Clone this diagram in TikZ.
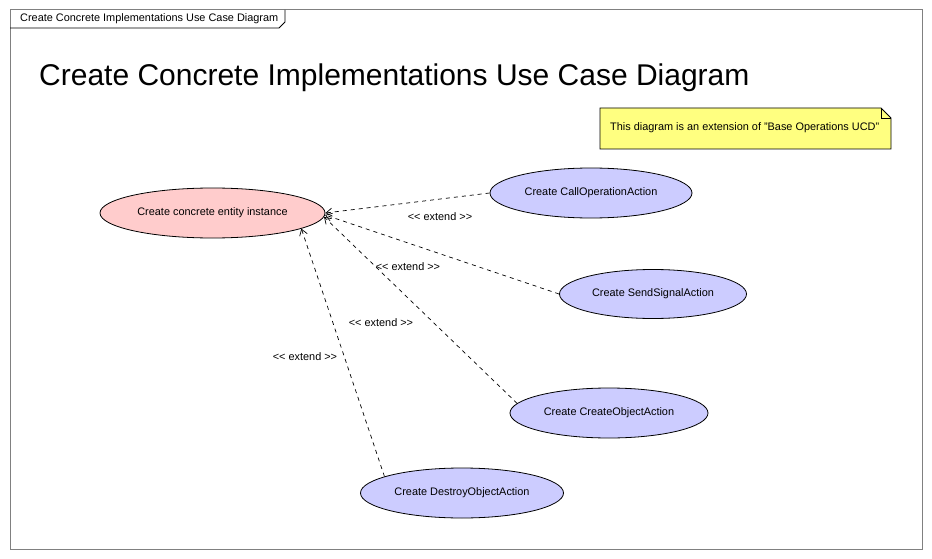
\documentclass[tikz,border=0pt]{standalone}
\usepackage{fontspec}
\setmainfont{Liberation Sans}
\usetikzlibrary{arrows.meta,shapes.geometric}
\definecolor{pinkfill}{HTML}{FFCCCC}
\definecolor{bluefill}{HTML}{CCCCFF}
\definecolor{notefill}{HTML}{FFFF80}
\definecolor{framegray}{HTML}{808080}
\newcommand{\extxt}{<\kern0pt< extend >\kern0pt>}
\tikzset{
  x=1pt, y=-1pt,
  smallfont/.style={font=\fontsize{10.9}{13}\selectfont},
  usecase/.style={draw=black, ellipse, inner sep=0pt, smallfont, line width=0.8pt, text height=6pt, text depth=2pt},
  base/.style={usecase, fill=pinkfill},
  ext/.style={usecase, fill=bluefill},
  extend/.style={draw=black, line width=0.7pt, dash pattern=on 4pt off 4pt, -{Straight Barb[length=6pt,width=8pt,line width=0.7pt]}},
  extlabel/.style={smallfont, inner sep=0pt},
}
\begin{document}
\begin{tikzpicture}
\useasboundingbox (0,0) rectangle (932,559);
\fill[white] (0,0) rectangle (932,559);
% frame
\draw[framegray, line width=1pt] (10,10) rectangle (922,549);
\draw[black, line width=0.8pt] (10,28) -- (279,28) -- (285,22) -- (285,10);
\node[anchor=west, inner sep=0pt, smallfont] (tab) at (20,19) {Create Concrete Implementations Use Case Diagram};
% title
\node[anchor=west, inner sep=0pt, font=\fontsize{30}{34}\selectfont] (title) at (39,78) {Create Concrete Implementations Use Case Diagram};
% note
\draw[black, fill=notefill, line width=0.8pt] (600,108) -- (881,108) -- (891,118) -- (891,149) -- (600,149) -- cycle;
\draw[black, line width=0.8pt] (881,108) -- (881,118) -- (891,118);
\node[anchor=west, inner sep=0pt, smallfont] (note) at (610,128) {This diagram is an extension of "Base Operations UCD"};
% use cases
\node[base, minimum width=225pt, minimum height=50pt] (pink) at (212.5,213) {Create concrete entity instance};
\node[ext, minimum width=202pt, minimum height=50pt] (call) at (591,193) {Create CallOperationAction};
\node[ext, minimum width=187pt, minimum height=49pt] (send) at (653,294) {Create SendSignalAction};
\node[ext, minimum width=198pt, minimum height=50pt] (create) at (609,413) {Create CreateObjectAction};
\node[ext, minimum width=203pt, minimum height=50pt] (destroy) at (462,493) {Create DestroyObjectAction};
% extends
\draw[extend] (call.west) -- (pink.east);
\draw[extend] (send.west) -- (pink.-1);
\draw[extend] (create.174) -- (pink.-2);
\draw[extend] (destroy.168) -- (pink.-10);
% labels
\node[extlabel] (l1) at (440,217) {\extxt};
\node[extlabel] (l2) at (408,267) {\extxt};
\node[extlabel] (l3) at (381,323) {\extxt};
\node[extlabel] (l4) at (305,357) {\extxt};
\end{tikzpicture}
\end{document}
